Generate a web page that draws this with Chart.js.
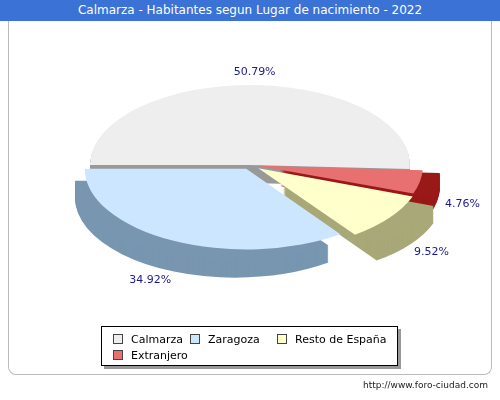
<!DOCTYPE html>
<html><head><meta charset="utf-8">
<script src="https://cdn.jsdelivr.net/npm/chart.js@4"></script>
<style>
body{margin:0;width:500px;height:400px;background:#fff;font-family:"DejaVu Sans",sans-serif;position:relative;overflow:hidden}
#title{position:absolute;left:0;top:0;width:500px;height:21px;background:#3b72d6;color:#fff;font-size:12px;line-height:21px;text-align:center}
#frame{position:absolute;left:8px;top:21px;width:482px;height:353px;border:1px solid #bbb;border-top:none;border-radius:0 0 8px 8px}
#c{position:absolute;left:0;top:0}
#legend{position:absolute;left:101px;top:326px;width:295px;height:38px;border:1px solid #000;background:#fff;box-shadow:3px 3px 0 #999;font-size:11px}
.it{position:absolute;white-space:nowrap}
.sw{display:inline-block;width:8px;height:8px;border:1px solid #444;margin-right:8px;vertical-align:-1px}
#foot{position:absolute;right:12px;top:380px;font-size:9px;color:#222}
</style></head><body>
<div id="title">Calmarza - Habitantes segun Lugar de nacimiento - 2022</div>
<div id="frame"></div>
<canvas id="c" width="500" height="400"></canvas>
<div id="legend"></div>
<div id="foot">http://www.foro-ciudad.com</div>
<script>
const categorias = ['Calmarza', 'Zaragoza', 'Resto de España', 'Extranjero'];
const valores = [50.79, 34.92, 9.52, 4.76];
const colores = ['#eeeeee', '#cce6ff', '#ffffcc', '#e87070'];
const lados = ['#999999', '#7896b0', '#a8a878', '#991818'];
const separacion = [0, 30, 38, 28];

// leyenda HTML
const leg = document.getElementById('legend');
const posLeg = [[11, 6], [88, 6], [175, 6], [11, 22]];
categorias.forEach((c, i) => {
    leg.innerHTML += `<div class="it" style="left:${posLeg[i][0]}px;top:${posLeg[i][1]}px"><span class="sw" style="background:${colores[i]}"></span>${c}</div>`;
});

const SY = 0.5, PROF = 18, RX = 160;
function aplicar(ctx, el, k, dy) {
    ctx.translate(el.x, el.y + dy);
    ctx.scale(-k, SY * k);
    ctx.translate(-el.x, -el.y);
}
function sector(ctx, el) {
    const mid = (el.startAngle + el.endAngle) / 2;
    const off = el.options.offset || 0;
    const x = el.x + Math.cos(mid) * off, y = el.y + Math.sin(mid) * off;
    ctx.beginPath();
    ctx.moveTo(x, y);
    ctx.arc(x, y, el.outerRadius, el.startAngle, el.endAngle);
    ctx.closePath();
}

const pie3d = {
    id: 'pie3d',
    beforeDatasetsDraw(chart) {
        const ctx = chart.ctx;
        const arcs = chart.getDatasetMeta(0).data;
        const k = RX / arcs[0].outerRadius;
        for (let s = PROF; s >= 1; s--) {
            arcs.forEach((el, i) => {
                ctx.save();
                aplicar(ctx, el, k, s);
                sector(ctx, el);
                ctx.fillStyle = lados[i];
                ctx.fill();
                ctx.restore();
            });
        }
        // caras superiores dibujadas por Chart.js con la misma transformación
        ctx.save();
        aplicar(ctx, arcs[0], k, 0);
    },
    afterDatasetsDraw(chart) {
        const ctx = chart.ctx;
        ctx.restore();
        const arcs = chart.getDatasetMeta(0).data;
        const k = RX / arcs[0].outerRadius;
        ctx.save();
        ctx.fillStyle = '#1a1a8c';
        ctx.font = '11px "DejaVu Sans"';
        ctx.textAlign = 'center';
        ctx.textBaseline = 'middle';
        arcs.forEach((el, i) => {
            const mid = (el.startAngle + el.endAngle) / 2;
            const r = el.outerRadius + (el.options.offset || 0) + 26 / k;
            const px = el.x - Math.cos(mid) * r * k;
            const py = el.y + Math.sin(mid) * r * k * SY + (Math.sin(mid) > 0 ? PROF : 0);
            ctx.fillText(valores[i].toFixed(2) + '%', px, py);
        });
        ctx.restore();
    }
};

new Chart(document.getElementById('c'), {
    type: 'pie',
    data: {
        labels: categorias,
        datasets: [{
            data: valores,
            backgroundColor: colores,
            borderWidth: 0,
            offset: separacion,
            clip: false
        }]
    },
    options: {
        responsive: false,
        animation: false,
        rotation: -92.85,
        layout: { padding: { top: 0, bottom: 70 } },
        plugins: { legend: { display: false }, tooltip: { enabled: false } }
    },
    plugins: [pie3d]
});
</script>
</body></html>
